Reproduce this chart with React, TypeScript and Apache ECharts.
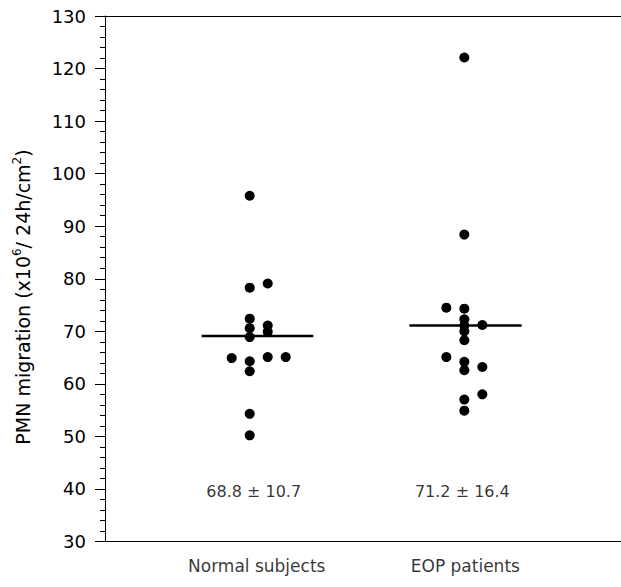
import React, { useEffect, useRef } from "react";
import * as echarts from "echarts";

const categories = ["Normal subjects", "EOP patients"];
const groupPositions = [1, 2];
const normalValues = [95.8, 78.3, 79.1, 72.4, 70.6, 71.1, 69.9, 68.9, 64.9, 64.3, 65.1, 65.1, 62.4, 54.3, 50.2];
const normalColumns = [0, 0, 1, 0, 0, 1, 1, 0, -1, 0, 1, 2, 0, 0, 0];
const eopValues = [122.1, 88.4, 74.5, 74.3, 72.3, 71.1, 71.2, 70.0, 68.3, 65.1, 64.2, 62.6, 63.2, 58.0, 57.0, 54.9];
const eopColumns = [0, 0, -1, 0, 0, 0, 1, 0, 0, -1, 0, 0, 1, 1, 0, 0];
const meanValues = [69.1, 71.1];
const meanExtents = [[-0.224, 0.296], [-0.256, 0.267]];
const statLabels = ["68.8 \u00b1 10.7", "71.2 \u00b1 16.4"];
const yMin = 30;
const yMax = 130;
const yInterval = 10;

const COL_STEP = 0.0839;
const FONT = "DejaVu Sans";

export default function App() {
  const ref = useRef<HTMLDivElement>(null);
  useEffect(() => {
    if (!ref.current) return;
    const chart = echarts.init(ref.current, undefined, { renderer: "svg" });
    const toPoints = (vals: number[], cols: number[], g: number) =>
      vals.map((v, i) => [groupPositions[g] + cols[i] * COL_STEP, v]);
    const labelOffsetsCat = [[7, 24], [1, 24]];
    const labelOffsetsStat = [[4, -50], [-2, -50]];
    const hiddenX = {
      type: "value",
      min: 0.3257,
      max: 2.73,
      axisLine: { show: true, onZero: false, lineStyle: { color: "#000", width: 1 } },
      axisTick: { show: false },
      axisLabel: { show: false },
      splitLine: { show: false },
    };
    chart.setOption({
      animation: false,
      grid: { left: 105, right: 0, top: 16, bottom: 45.5, containLabel: false },
      xAxis: [
        { ...hiddenX, position: "bottom" },
        { ...hiddenX, position: "top" },
      ],
      yAxis: {
        type: "value",
        min: yMin,
        max: yMax,
        interval: yInterval,
        axisLine: { show: true, lineStyle: { color: "#000", width: 1 } },
        axisTick: { show: true, length: 10, lineStyle: { color: "#000" } },
        minorTick: { show: true, splitNumber: 5, length: 5, lineStyle: { color: "#000" } },
        axisLabel: { color: "#000", fontFamily: FONT, fontSize: 18, margin: 19 },
        splitLine: { show: false },
      },
      series: [
        {
          type: "scatter",
          data: toPoints(normalValues, normalColumns, 0),
          symbol: "circle",
          symbolSize: 10,
          itemStyle: { color: "#000", opacity: 1 },
        },
        {
          type: "scatter",
          data: toPoints(eopValues, eopColumns, 1),
          symbol: "circle",
          symbolSize: 10,
          itemStyle: { color: "#000", opacity: 1 },
        },
        ...meanValues.map((m, g) => ({
          type: "line",
          data: [
            [groupPositions[g] + meanExtents[g][0], m],
            [groupPositions[g] + meanExtents[g][1], m],
          ],
          symbol: "none",
          lineStyle: { color: "#000", width: 2.5 },
          z: 3,
        })),
        ...categories.map((c, g) => ({
          type: "scatter",
          symbolSize: 0,
          data: [[groupPositions[g], yMin]],
          label: {
            show: true,
            position: "inside",
            formatter: c,
            offset: labelOffsetsCat[g],
            color: "#000",
            fontFamily: FONT,
            fontSize: 17,
          },
          silent: true,
        })),
        ...statLabels.map((s, g) => ({
          type: "scatter",
          symbolSize: 0,
          data: [[groupPositions[g], yMin]],
          label: {
            show: true,
            position: "inside",
            formatter: s,
            offset: labelOffsetsStat[g],
            color: "#000",
            fontFamily: FONT,
            fontSize: 16,
          },
          silent: true,
        })),
      ],
      graphic: [
        {
          type: "text",
          x: 23,
          y: 297,
          rotation: Math.PI / 2,
          style: {
            text: "{a|PMN migration (x10}{s|6}{a|/ 24h/cm}{s|2}{a|)}",
            textAlign: "center",
            textVerticalAlign: "middle",
            fill: "#000",
            rich: {
              a: { fontFamily: FONT, fontSize: 19, fill: "#000", lineHeight: 24 },
              s: { fontFamily: FONT, fontSize: 12, fill: "#000", lineHeight: 24, verticalAlign: "top" },
            },
          },
        },
      ],
    });
    return () => chart.dispose();
  }, []);
  return <div ref={ref} style={{ width: 621, height: 587, position: "absolute", left: 0, top: 0 }} />;
}
